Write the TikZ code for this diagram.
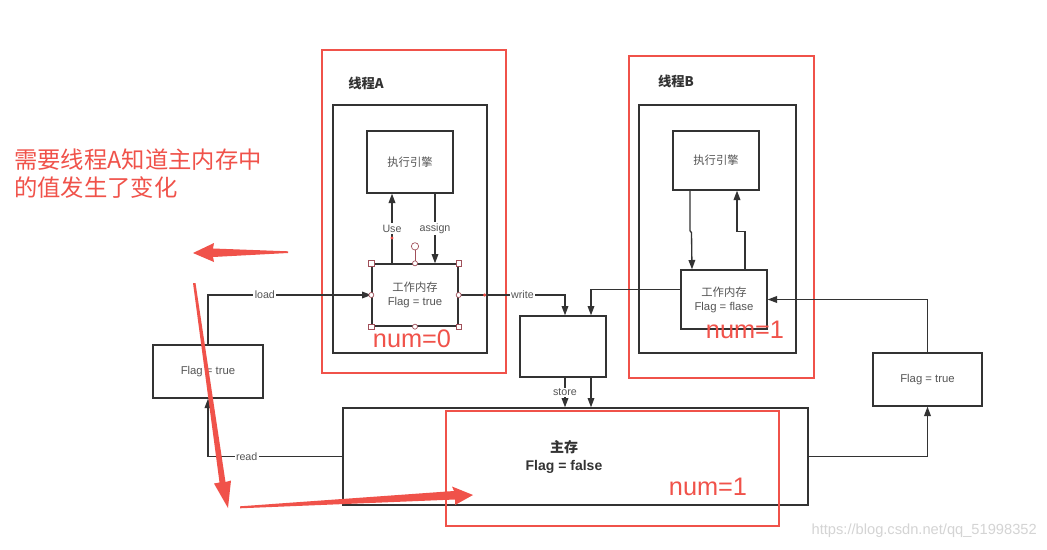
\documentclass[tikz,border=0pt]{standalone}
\usepackage{fontspec}
\setmainfont{Liberation Sans}
\newfontfamily\cjk{Noto Sans CJK SC}
\usetikzlibrary{arrows.meta,calc}
\definecolor{ln}{HTML}{333333}
\definecolor{rd}{HTML}{F0524A}
\definecolor{tx}{HTML}{555555}
\definecolor{hd}{HTML}{A0505A}
\definecolor{wm}{HTML}{D4D4D4}
\begin{document}
\begin{tikzpicture}[x=0.75pt,y=-0.75pt,
  box/.style={draw=ln, line width=1pt, inner sep=0pt, align=center, text=tx, font=\fontsize{8.5}{10.5}\selectfont},
  rbox/.style={draw=rd, line width=1.6pt, inner sep=0pt},
  arr/.style={draw=ln, line width=1pt, -{Triangle[length=7pt,width=5pt]}},
  lbl/.style={fill=white, inner sep=1pt, text=tx, font=\fontsize{8}{9}\selectfont},
  numtxt/.style={text=rd, inner sep=0pt, font=\fontsize{19}{20}\selectfont},
  hsq/.style={draw=hd, fill=white, minimum size=3.8pt, inner sep=0pt, line width=0.5pt},
  hci/.style={draw=hd, fill=white, circle, minimum size=3.8pt, inner sep=0pt, line width=0.5pt}
]
\fill[white] (0,0) rectangle (1047,550);
\useasboundingbox (0,0) rectangle (1047,550);

% thread A
\node[rbox, minimum width=138pt, minimum height=242.25pt] (redA) at (414,211.5) {};
\node[box, minimum width=115.5pt, minimum height=186pt] (innerA) at (410,229) {};
\node[inner sep=0pt, font=\cjk\bfseries\fontsize{10}{12}\selectfont, text=ln] (labA) at (366,83) {线程A};
\node[box, minimum width=64.5pt, minimum height=46.5pt] (execA) at (410,162) {\cjk 执行引擎};
\node[box, minimum width=64.5pt, minimum height=46.5pt] (wmA) at (415,295) {{\cjk 工作内存}\\Flag = true};
\node[numtxt] (numA) at (412,339) {num=0};

% thread B
\node[rbox, minimum width=138.75pt, minimum height=241.5pt] (redB) at (721.5,217) {};
\node[box, minimum width=117.75pt, minimum height=186pt] (innerB) at (717.5,229) {};
\node[inner sep=0pt, font=\cjk\bfseries\fontsize{10}{12}\selectfont, text=ln] (labB) at (676,81) {线程B};
\node[box, minimum width=64.5pt, minimum height=44.25pt] (execB) at (716,160.5) {\cjk 执行引擎};
\node[box, minimum width=64.5pt, minimum height=44.25pt] (wmB) at (724,299.5) {{\cjk 工作内存}\\Flag = flase};
\node[numtxt] (numB) at (745,330) {num=1};

% side boxes and buffer
\node[box, minimum width=82.5pt, minimum height=39.75pt] (leftF) at (208,371.5) {Flag = true};
\node[box, minimum width=81.75pt, minimum height=39.75pt] (rightF) at (927.5,379.5) {Flag = true};
\node[box, minimum width=64.5pt, minimum height=45.75pt] (mid) at (563,346.5) {};

% main memory
\node[box, minimum width=348.75pt, minimum height=72.75pt] (main) at (575.5,456.5) {};
\node[rbox, minimum width=249.75pt, minimum height=86.25pt] (redM) at (612.5,468.5) {};
\node[align=center, inner sep=0pt, text=ln, font=\bfseries\fontsize{10.5}{13}\selectfont] (mainT) at (564,457) {{\cjk 主存}\\Flag = false};
\node[numtxt] (numM) at (708,487) {num=1};

% connectors thread A
\draw[arr] ([xshift=-17.25pt]wmA.north) -- ([xshift=-17.25pt]wmA.north |- execA.south)
  node[lbl, pos=0.5] {Use};
\draw[arr] ([xshift=18.75pt]execA.south) -- ([xshift=18.75pt]execA.south |- wmA.north)
  node[lbl, pos=0.5] {assign};
\draw[arr] (leftF.north) |- (wmA.west) node[lbl, pos=0.674] {load};
\draw[arr] (main.west) -| (leftF.south) node[lbl, pos=0.356] {read};
\draw[arr] (wmA.east) -| ([xshift=1.5pt]mid.north) node[lbl, pos=0.3] {write};
\draw[arr] ([yshift=7.5pt]wmB.west) -| ([xshift=21pt]mid.north);
\draw[arr] ([xshift=1.5pt]mid.south) -- ([xshift=1.5pt]mid.south |- main.north) node[lbl, pos=0.5] {store};
\draw[arr] ([xshift=21pt]mid.south) -- ([xshift=21pt]mid.south |- main.north);
\draw[arr] (main.east) -| (rightF.south);
\draw[arr] (rightF.north) |- (wmB.east);

% thread B inner arrows
\draw[arr] ([xshift=-19.5pt]execB.south) -- ++(0,40) -- ++(1.5,2) -- ([xshift=-24pt]wmB.north);
\draw[arr] ([xshift=15.75pt]wmB.north) -- ++(0,-38) -| ([xshift=15.75pt]execB.south);

% selection handles on wmA
\draw[hd, line width=0.4pt] (wmA.north) -- ++(0,-14);
\node[hci, minimum size=5.5pt] (rot) at ($(wmA.north)+(0,-17)$) {};
\foreach \a in {north west, north east, south west, south east} \node[hsq] at (wmA.\a) {};
\foreach \a in {north, south, west, east} \node[hci] at (wmA.\a) {};
\fill[rd] ([xshift=-17.25pt,yshift=19pt]wmA.north) circle (1.3pt);
\fill[rd] ([xshift=19.5pt]wmA.east) circle (1.3pt);

% annotation
\node[anchor=north west, align=left, inner sep=0pt, text=rd, font=\cjk\fontsize{17.5}{21}\selectfont] (note) at (14,149) {需要线程A知道主内存中\\的值发生了变化};

% hand drawn red arrows
\fill[rd] (288,251.3) -- (213,248.5) -- (214,243) -- (193,253) -- (214,262) -- (213,257) -- (288,253) -- cycle;
\fill[rd] (193,283) -- (195.5,283) -- (225.5,482) -- (231,480.5) -- (228,508) -- (214,483.5) -- (219.5,482.5) -- cycle;
\fill[rd] (240,506.3) -- (454,491) -- (452,486.5) -- (473,495) -- (455,505) -- (455,499.5) -- (240,508.3) -- cycle;

% watermark
\node[anchor=east, inner sep=0pt, text=wm, font=\fontsize{11}{12}\selectfont] (wmk) at (1037,531) {https://blog.csdn.net/qq\_51998352};
\end{tikzpicture}
\end{document}
